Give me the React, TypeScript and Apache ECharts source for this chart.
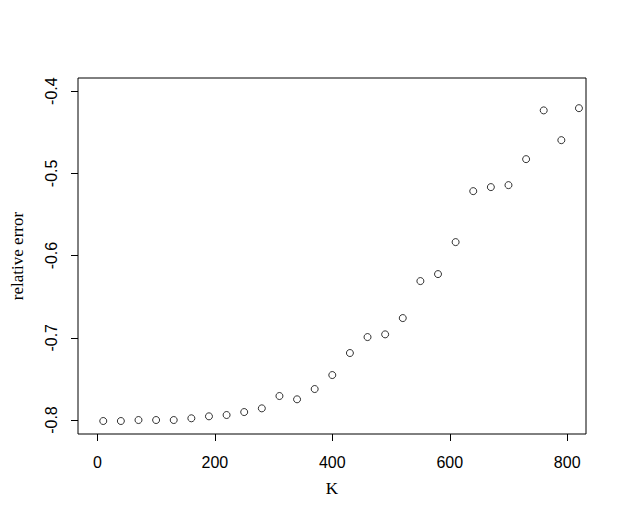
import React, { useEffect, useRef } from "react";
import * as echarts from "echarts";

const kValues = [10, 40, 70, 100, 130, 160, 190, 220, 250, 280, 310, 340, 370, 400, 430, 460, 490, 520, 550, 580, 610, 640, 670, 700, 730, 760, 790, 820];
const relError = [-0.8012, -0.8012, -0.8, -0.8, -0.8, -0.7979, -0.7955, -0.7939, -0.7903, -0.7858, -0.7708, -0.7748, -0.7623, -0.7453, -0.7185, -0.6991, -0.6958, -0.676, -0.631, -0.6225, -0.5836, -0.5216, -0.5167, -0.5143, -0.4827, -0.4234, -0.4596, -0.4207];
const xTicks = [0, 200, 400, 600, 800];
const yTicks = [-0.8, -0.7, -0.6, -0.5, -0.4];

export default function App() {
  const ref = useRef<HTMLDivElement>(null);
  useEffect(() => {
    if (!ref.current) return;
    const chart = echarts.init(ref.current, null, { renderer: "svg" });
    const sans = "'Liberation Sans', Arial, sans-serif";
    const serif = "'Liberation Serif', 'Times New Roman', serif";
    chart.setOption({
      animation: false,
      backgroundColor: "#ffffff",
      grid: {
        left: 78,
        right: 41,
        top: 78,
        bottom: 98,
        show: true,
        borderColor: "#000",
        borderWidth: 1,
        backgroundColor: "transparent",
      },
      xAxis: {
        type: "value",
        min: -33,
        max: 832,
        name: "K",
        nameLocation: "middle",
        nameGap: 46,
        nameTextStyle: { fontFamily: serif, fontSize: 17, color: "#000" },
        axisLine: { show: false, onZero: false },
        axisTick: { show: true, inside: false, length: 7, lineStyle: { color: "#000", width: 1 }, customValues: xTicks },
        axisLabel: { show: true, margin: 20, fontFamily: sans, fontSize: 16, color: "#000", customValues: xTicks },
        splitLine: { show: false },
      },
      yAxis: {
        type: "value",
        min: -0.817,
        max: -0.384,
        name: "relative error",
        nameLocation: "middle",
        nameGap: 52,
        nameRotate: 90,
        nameTextStyle: { fontFamily: serif, fontSize: 17, color: "#000" },
        axisLine: { show: false, onZero: false },
        axisTick: { show: true, inside: false, length: 7, lineStyle: { color: "#000", width: 1 }, customValues: yTicks },
        axisLabel: {
          show: true,
          rotate: 90,
          margin: 19,
          fontFamily: sans,
          fontSize: 16,
          color: "#000",
          customValues: yTicks,
          formatter: (v: number) => v.toFixed(1),
        },
        splitLine: { show: false },
      },
      series: [
        {
          type: "scatter",
          data: kValues.map((k, i) => [k, relError[i]]),
          symbol: "circle",
          symbolSize: 7,
          itemStyle: { color: "transparent", borderColor: "#000", borderWidth: 1 },
        },
      ],
    });
    return () => chart.dispose();
  }, []);
  return <div ref={ref} style={{ position: "fixed", left: 0, top: 0, width: 627, height: 532 }} />;
}
